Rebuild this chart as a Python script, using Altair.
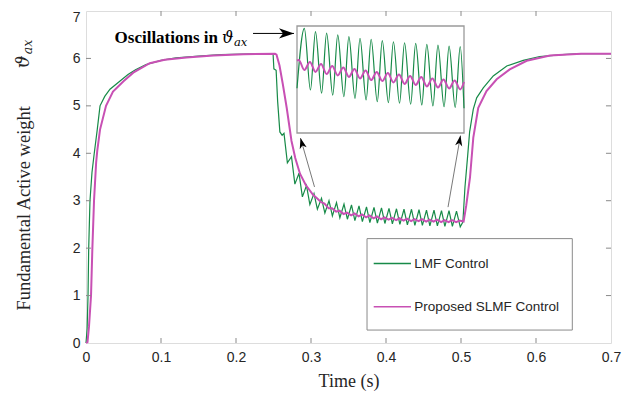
import altair as alt
import pandas as pd

# ---------------- data ----------------
x_ticks = [0, 0.1, 0.2, 0.3, 0.4, 0.5, 0.6, 0.7]
y_ticks = [0, 1, 2, 3, 4, 5, 6, 7]

# LMF Control (green)
lmf_rise_t = [0, 0.0015, 0.0027, 0.0036, 0.0053, 0.008, 0.011, 0.015, 0.0187, 0.025, 0.032,
              0.045, 0.056, 0.066, 0.08, 0.1, 0.12, 0.15, 0.18, 0.21, 0.2485]
lmf_rise_v = [0, 0.3, 1.0, 2.0, 3.0, 3.6, 4.0, 4.5, 5.0, 5.2, 5.35,
              5.52, 5.66, 5.76, 5.87, 5.96, 6.01, 6.05, 6.08, 6.09, 6.10]
lmf_drop_t = [0.2495, 0.2505, 0.2535, 0.2555, 0.2585, 0.2615]
lmf_drop_v = [6.08, 5.78, 5.75, 5.10, 4.45, 4.38]
lmf_peak_t = [0.264, 0.274, 0.284, 0.294, 0.304, 0.314, 0.324, 0.334, 0.344, 0.354, 0.364, 0.374,
              0.384, 0.394, 0.404, 0.414, 0.424, 0.434, 0.444, 0.454, 0.464, 0.474, 0.484, 0.494]
lmf_peak_v = [4.42, 3.93, 3.58, 3.32, 3.15, 3.05, 3.00, 2.96, 2.93, 2.91, 2.89, 2.87,
              2.86, 2.85, 2.84, 2.83, 2.82, 2.82, 2.81, 2.80, 2.80, 2.79, 2.79, 2.78]
lmf_trough_t = [0.2685, 0.2785, 0.2885, 0.2985, 0.3085, 0.3185, 0.3285, 0.3385, 0.3485, 0.3585,
                0.3685, 0.3785, 0.3885, 0.3985, 0.4085, 0.4185, 0.4285, 0.4385, 0.4485, 0.4585,
                0.4685, 0.4785, 0.4885, 0.4990]
lmf_trough_v = [3.80, 3.35, 3.08, 2.92, 2.82, 2.74, 2.68, 2.64, 2.61, 2.58,
                2.56, 2.54, 2.53, 2.52, 2.51, 2.50, 2.49, 2.48, 2.48, 2.47,
                2.47, 2.46, 2.46, 2.45]
lmf_rec_t = [0.5025, 0.5053, 0.5089, 0.5115, 0.5164, 0.5209, 0.5297, 0.543, 0.561, 0.583,
             0.605, 0.635, 0.66, 0.7]
lmf_rec_v = [2.55, 3.29, 3.95, 4.45, 4.93, 5.17, 5.38, 5.63, 5.84, 5.96,
             6.04, 6.08, 6.10, 6.10]

# Proposed SLMF Control (magenta)
slmf_t = [0, 0.002, 0.004, 0.0067, 0.0085, 0.0107, 0.0135, 0.015, 0.0187, 0.0267, 0.036, 0.05,
          0.063, 0.085, 0.105, 0.134, 0.17, 0.21, 0.252,
          0.254, 0.258, 0.2625, 0.2676, 0.274, 0.279, 0.2853, 0.293, 0.303,
          0.308, 0.3135, 0.318, 0.3235, 0.328, 0.3335, 0.338, 0.3435, 0.348, 0.3535,
          0.358, 0.3635, 0.368, 0.3735, 0.378, 0.3835, 0.388, 0.3935, 0.398, 0.4035,
          0.408, 0.4135, 0.418, 0.4235, 0.428, 0.4335, 0.438, 0.4435, 0.448, 0.4535,
          0.458, 0.4635, 0.468, 0.4735, 0.478, 0.4835, 0.488, 0.4935, 0.498, 0.5035,
          0.507, 0.512, 0.5164, 0.523, 0.534, 0.5476, 0.565, 0.5876, 0.6187, 0.66, 0.7]
slmf_v = [0, 0.02, 0.35, 1.0, 2.0, 3.0, 3.8, 4.05, 4.5, 5.0, 5.3, 5.52,
          5.7, 5.9, 5.97, 6.02, 6.06, 6.09, 6.10,
          6.08, 5.85, 5.45, 4.96, 4.26, 3.90, 3.57, 3.33, 3.12,
          3.05, 2.97, 2.94, 2.84, 2.84, 2.77, 2.79, 2.72, 2.75, 2.69,
          2.73, 2.67, 2.71, 2.65, 2.69, 2.63, 2.67, 2.61, 2.65, 2.60,
          2.64, 2.59, 2.63, 2.58, 2.62, 2.57, 2.61, 2.57, 2.61, 2.56,
          2.60, 2.56, 2.60, 2.55, 2.59, 2.55, 2.59, 2.55, 2.58, 2.56,
          2.90, 3.49, 4.33, 4.96, 5.31, 5.56, 5.77, 5.95, 6.06, 6.10, 6.10]

# Inset (zoom of the oscillations)
inset_domain_t = [0.35, 0.50]
inset_domain_v = [2.40, 2.95]
ins_lmf_t = [0.350, 0.3566, 0.3621, 0.3666, 0.3721, 0.3766, 0.3821, 0.3866, 0.3921, 0.3966, 0.4021,
             0.4066, 0.4121, 0.4166, 0.4221, 0.4266, 0.4321, 0.4366, 0.4421, 0.4466, 0.4521,
             0.4566, 0.4621, 0.4666, 0.4721, 0.4766, 0.4821, 0.4866, 0.4921, 0.4966, 0.500]
ins_lmf_v = [2.630, 2.938, 2.621, 2.921, 2.605, 2.913, 2.595, 2.904, 2.587, 2.895, 2.578,
             2.887, 2.570, 2.882, 2.561, 2.875, 2.556, 2.869, 2.553, 2.864, 2.548,
             2.861, 2.544, 2.856, 2.539, 2.852, 2.535, 2.847, 2.532, 2.844, 2.527]
ins_slmf_t = [0.350, 0.3516, 0.3566, 0.3616, 0.3666, 0.3716, 0.3766, 0.3816, 0.3866, 0.3916, 0.3966,
              0.4016, 0.4066, 0.4116, 0.4166, 0.4216, 0.4266, 0.4316, 0.4366, 0.4416, 0.4466,
              0.4516, 0.4566, 0.4616, 0.4666, 0.4716, 0.4766, 0.4816, 0.4866, 0.4916, 0.4966, 0.500]
ins_slmf_v = [2.772, 2.775, 2.724, 2.765, 2.714, 2.755, 2.703, 2.744, 2.696, 2.737, 2.688,
              2.729, 2.680, 2.721, 2.672, 2.714, 2.667, 2.708, 2.660, 2.701, 2.652,
              2.693, 2.647, 2.688, 2.639, 2.680, 2.634, 2.675, 2.629, 2.670, 2.624, 2.662]

series_names = ["LMF Control", "Proposed SLMF Control"]
GREEN = "#178a48"
MAGENTA = "#c850b4"
FRAME = "#8a8a8a"
TXT = "#262626"

# ---------------- tables ----------------
g_t = lmf_rise_t + lmf_drop_t + lmf_peak_t + lmf_trough_t + lmf_rec_t
g_v = lmf_rise_v + lmf_drop_v + lmf_peak_v + lmf_trough_v + lmf_rec_v
df_g = pd.DataFrame({"t": g_t, "v": g_v}).sort_values("t")
df_m = pd.DataFrame({"t": slmf_t, "v": slmf_v})
df_ig = pd.DataFrame({"t": ins_lmf_t, "v": ins_lmf_v})
df_im = pd.DataFrame({"t": ins_slmf_t, "v": ins_slmf_v})

xs = alt.Scale(domain=[0, 0.7], nice=False, zero=False)
ys = alt.Scale(domain=[0, 7], nice=False, zero=False)
xaxis = alt.Axis(values=x_ticks, format=".1~f", title="Time (s)", ticks=False, grid=False,
                 domain=False, labelFont="Liberation Sans", labelFontSize=14, labelColor=TXT,
                 labelPadding=7, labelFlush=False, titleFont="Liberation Serif", titleFontSize=18,
                 titleFontWeight="normal", titleColor=TXT, titlePadding=8)
yaxis = alt.Axis(values=y_ticks, title=None, ticks=False, grid=False, domain=False,
                 labelFont="Liberation Sans", labelFontSize=14, labelColor=TXT, labelPadding=6,
                 labelFlush=False,
                 labelOffset={"condition": {"test": "datum.value == 7", "value": 6}, "value": 0})


def X(f="t"):
    return alt.X(f"{f}:Q", scale=xs, axis=xaxis)


def Y(f="v"):
    return alt.Y(f"{f}:Q", scale=ys, axis=yaxis)


green = alt.Chart(df_g).mark_line(color=GREEN, strokeWidth=1.2).encode(x=X(), y=Y())
magenta = alt.Chart(df_m).mark_line(color=MAGENTA, strokeWidth=2).encode(x=X(), y=Y())

# inward ticks (MATLAB style)
tick_len_x = 0.105   # in y units
tick_len_y = 0.0067  # in x units
tick_rows = []
for xv in x_ticks[1:-1]:
    tick_rows.append({"t": xv, "t2": xv, "v": 0, "v2": tick_len_x})
    tick_rows.append({"t": xv, "t2": xv, "v": 7, "v2": 7 - tick_len_x})
for yv in y_ticks[1:-1]:
    tick_rows.append({"t": 0, "t2": tick_len_y, "v": yv, "v2": yv})
    tick_rows.append({"t": 0.7, "t2": 0.7 - tick_len_y, "v": yv, "v2": yv})
ticks = alt.Chart(pd.DataFrame(tick_rows)).mark_rule(color=FRAME, strokeWidth=1).encode(
    x=X(), x2="t2:Q", y=Y(), y2="v2:Q")

# arrows
arrow_lines = pd.DataFrame({
    "t": [0.2227, 0.3047, 0.4827], "v": [6.527, 3.29, 2.865],
    "t2": [0.2773, 0.2860, 0.4993], "v2": [6.527, 4.32, 4.373],
    "c": ["#000000", "#555555", "#555555"], "w": [1.0, 0.8, 0.8]})
arrow_rules = alt.Chart(arrow_lines).mark_rule().encode(
    x=X(), x2="t2:Q", y=Y(), y2="v2:Q",
    color=alt.Color("c:N", scale=None), strokeWidth=alt.StrokeWidth("w:Q", scale=None))
heads = pd.DataFrame({"t": [0.2773, 0.2860, 0.4993], "v": [6.527, 4.32, 4.373],
                      "ang": [0, 255.1, 279.9], "s": [225, 110, 110]})
HEAD = "M0,0 L-2,-0.68 L-1.45,0 L-2,0.68 Z"
arrow_heads = alt.Chart(heads).mark_point(shape=HEAD, filled=True, color="black", opacity=1,
                                          strokeWidth=0).encode(
    x=X(), y=Y(), angle=alt.Angle("ang:Q", scale=None), size=alt.Size("s:Q", scale=None))

# annotation text
ann1 = alt.Chart(pd.DataFrame({"t": [0.176], "v": [6.327], "s": ["Oscillations in"]})).mark_text(
    align="right", baseline="alphabetic", font="Liberation Serif", fontSize=17, fontWeight="bold",
    color="black").encode(x=X(), y=Y(), text="s:N")
ann2 = alt.Chart(pd.DataFrame({"t": [0.1813], "v": [6.327], "s": ["ϑ"]})).mark_text(
    align="left", baseline="alphabetic", font="DejaVu Serif", fontSize=16, fontStyle="italic",
    color="black").encode(x=X(), y=Y(), text="s:N")
ann3 = alt.Chart(pd.DataFrame({"t": [0.1973], "v": [6.264], "s": ["ax"]})).mark_text(
    align="left", baseline="alphabetic", font="DejaVu Serif", fontSize=11.5, fontStyle="italic",
    color="black").encode(x=X(), y=Y(), text="s:N")

# y-axis title
ytitle = alt.Chart(pd.DataFrame({"t": [-0.0827], "v": [2.84], "s": ["Fundamental Active weight"]})).mark_text(
    angle=270, align="center", baseline="middle", font="Liberation Serif", fontSize=18.5,
    color=TXT).encode(x=X(), y=Y(), text="s:N")
ytheta = alt.Chart(pd.DataFrame({"t": [-0.0827], "v": [5.93], "s": ["ϑ"]})).mark_text(
    angle=270, align="center", baseline="middle", font="DejaVu Serif", fontSize=18,
    fontStyle="italic", color=TXT).encode(x=X(), y=Y(), text="s:N")
ysub = alt.Chart(pd.DataFrame({"t": [-0.0770], "v": [6.24], "s": ["ax"]})).mark_text(
    angle=270, align="center", baseline="middle", font="DejaVu Serif", fontSize=12.5,
    fontStyle="italic", color=TXT).encode(x=X(), y=Y(), text="s:N")

# legend
leg_box = alt.Chart(pd.DataFrame({"t": [0.3747], "t2": [0.6484], "v": [2.201], "v2": [0.273]})).mark_rect(
    fill="white", stroke=FRAME, strokeWidth=1).encode(x=X(), x2="t2:Q", y=Y(), y2="v2:Q")
leg_lines = alt.Chart(pd.DataFrame({"t": [0.3836, 0.3836], "t2": [0.4333, 0.4333],
                                    "v": [1.675, 0.763], "c": [GREEN, MAGENTA]})).mark_rule(
    strokeWidth=1.5).encode(x=X(), x2="t2:Q", y=Y(), color=alt.Color("c:N", scale=None))
leg_text = alt.Chart(pd.DataFrame({"t": [0.4377, 0.4377], "v": [1.675, 0.763],
                                   "s": series_names})).mark_text(
    align="left", baseline="middle", font="Liberation Sans", fontSize=13.5, color=TXT).encode(
    x=X(), y=Y(), text="s:N")

main = alt.layer(green, magenta, ticks, arrow_rules, arrow_heads, ann1, ann2, ann3,
                 ytitle, ytheta, ysub, leg_box, leg_lines, leg_text)

# inset with its own scales placed inside the plot area
ixs = alt.Scale(domain=inset_domain_t, range=[211, 378], nice=False, zero=False)
iys = alt.Scale(domain=inset_domain_v, range=[122, 15], nice=False, zero=False)
ibox = alt.Chart(pd.DataFrame({"t": [inset_domain_t[0]], "t2": [inset_domain_t[1]],
                               "v": [inset_domain_v[0]], "v2": [inset_domain_v[1]]})).mark_rect(
    fill="white", stroke="#9a9a9a", strokeWidth=1.3).encode(
    x=alt.X("t:Q", scale=ixs, axis=None), x2="t2:Q",
    y=alt.Y("v:Q", scale=iys, axis=None), y2="v2:Q")
ig = alt.Chart(df_ig).mark_line(color=GREEN, strokeWidth=1.2, interpolate="monotone").encode(
    x=alt.X("t:Q", scale=ixs, axis=None), y=alt.Y("v:Q", scale=iys, axis=None))
im = alt.Chart(df_im).mark_line(color=MAGENTA, strokeWidth=2, interpolate="monotone").encode(
    x=alt.X("t:Q", scale=ixs, axis=None), y=alt.Y("v:Q", scale=iys, axis=None))
inset = alt.layer(ibox, ig, im)

chart = alt.layer(main, inset).resolve_scale(x="independent", y="independent").properties(
    width=525, height=332,
    autosize=alt.AutoSizeParams(type="none"),
    padding={"left": 78, "top": 3, "right": 19, "bottom": 50},
).configure_view(stroke=FRAME, strokeWidth=1).configure(background="white")

chart.save("out.html", embed_options={"renderer": "svg", "actions": False})
